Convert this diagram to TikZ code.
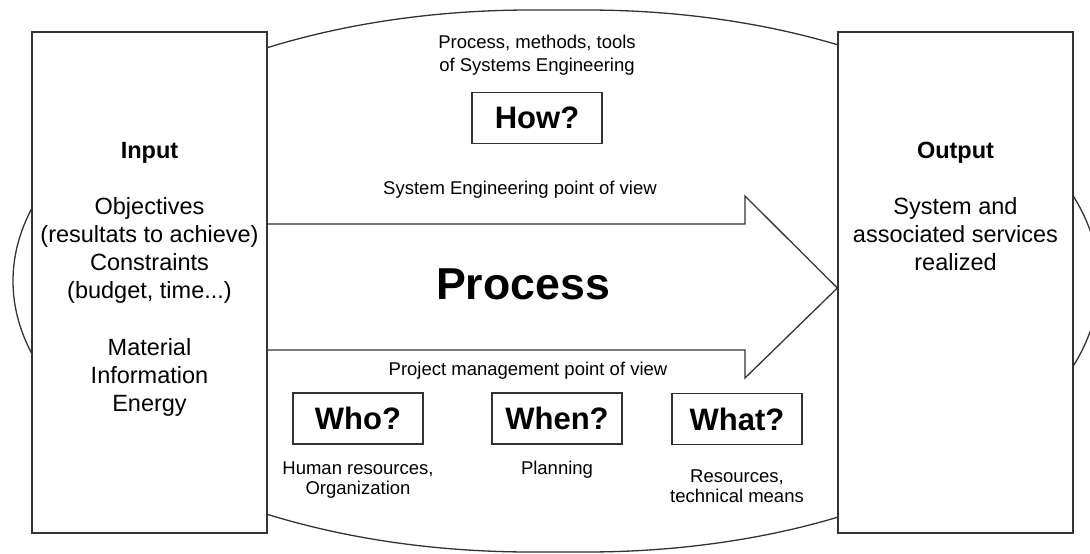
\documentclass[tikz,border=0pt]{standalone}
\usepackage{fontspec}
\setmainfont{Liberation Sans}
\begin{document}
\begin{tikzpicture}[x=1pt,y=-1pt]
\tikzset{
  ln/.style={draw=black!80, line width=1.3pt},
  bigbox/.style={ln, fill=white, minimum width=235pt, minimum height=501pt, inner sep=0pt},
  qbox/.style={ln, fill=white, minimum width=130pt, minimum height=51pt, inner sep=0pt,
               font=\fontsize{31}{31}\selectfont\bfseries},
  bigtxt/.style={font=\fontsize{23.5}{28.1}\selectfont, inner sep=0pt, anchor=base},
  smalltxt/.style={font=\fontsize{18.5}{20}\selectfont, inner sep=0pt, anchor=base},
  toptxt/.style={font=\fontsize{18.5}{23}\selectfont, inner sep=0pt, anchor=base},
  proctxt/.style={font=\fontsize{44.7}{46}\selectfont\bfseries, inner sep=0pt, anchor=base}
}
\useasboundingbox (0,0) rectangle (1090,554);
\clip (0,0) rectangle (1090,554);
% surrounding oval
\draw[ln] (531,10) arc[start angle=90,end angle=270,x radius=518pt,y radius=271pt]
  -- (586,552) arc[start angle=270,end angle=450,x radius=513pt,y radius=271pt] -- cycle;
% input and output boxes
\node[bigbox] (in) at (149.5,282.5) {};
\node[bigbox] (out) at (955.5,282.5) {};
% process arrow
\coordinate (a1) at (in.east |- 0,224);
\coordinate (a2) at (in.east |- 0,350);
\coordinate (tip) at (out.west |- 0,288);
\draw[ln, line join=miter] (a1) -- (745,224) -- (745,196) -- (tip) -- (745,378) -- (745,350) -- (a2);
% texts in boxes
\node[bigtxt] (intext) at (149.5,158.4) {\begin{tabular}[t]{@{}c@{}}\textbf{Input}\\ \\ Objectives\\ (resultats to achieve)\\ Constraints\\ (budget, time...)\\ \\ Material\\ Information\\ Energy\end{tabular}};
\node[bigtxt] (outtext) at (955.5,158.4) {\begin{tabular}[t]{@{}c@{}}\textbf{Output}\\ \\ System and\\ associated services\\ realized\end{tabular}};
% top
\node[toptxt] (toplbl) at (537,48.7) {\begin{tabular}[t]{@{}c@{}}Process, methods, tools\\ of Systems Engineering\end{tabular}};
\node[qbox] (how) at (537,118) {How?};
\node[toptxt] (se) at (520,194.7) {System Engineering point of view};
\node[proctxt] (proc) at (523,299) {Process};
\node[toptxt] (pm) at (528,375.7) {Project management point of view};
% bottom boxes
\node[qbox] (who) at (358,418.5) {Who?};
\node[qbox] (when) at (557,418.5) {When?};
\node[qbox] (what) at (737,419) {What?};
\node[smalltxt] (wholbl) at (358,474.5) {\begin{tabular}[t]{@{}c@{}}Human resources,\\ Organization\end{tabular}};
\node[smalltxt] (whenlbl) at (557,474.5) {Planning};
\node[smalltxt] (whatlbl) at (737,482) {\begin{tabular}[t]{@{}c@{}}Resources,\\ technical means\end{tabular}};
\end{tikzpicture}
\end{document}
